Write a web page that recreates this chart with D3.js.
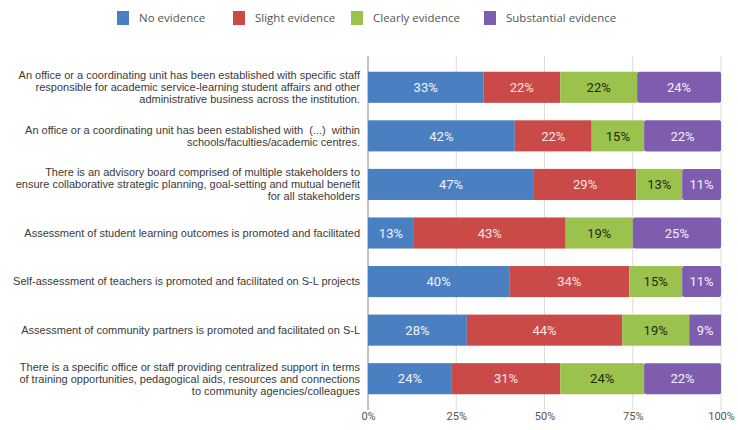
<!DOCTYPE html>
<html>
<head>
<meta charset="utf-8">
<script src="https://cdn.jsdelivr.net/npm/d3@7"></script>
<style>
  body { margin: 0; background: #fff; }
  svg { display: block; }
</style>
</head>
<body>
<div id="chart"></div>
<script>
// categories (top to bottom), one label line per array entry
const categories = [
  ["An office or a coordinating unit has been established with specific staff",
   "responsible for academic service-learning student affairs and other",
   "administrative business across the institution."],
  ["An office or a coordinating unit has been established with  (...)  within",
   "schools/faculties/academic centres."],
  ["There is an advisory board comprised of multiple stakeholders to",
   "ensure collaborative strategic planning, goal-setting and mutual benefit",
   "for all stakeholders"],
  ["Assessment of student learning outcomes is promoted and facilitated"],
  ["Self-assessment of teachers is promoted and facilitated on S-L projects"],
  ["Assessment of community partners is promoted and facilitated on S-L"],
  ["There is a specific office or staff providing centralized support in terms",
   "of training opportunities, pedagogical aids, resources and connections",
   "to community agencies/colleagues"]
];

const seriesNames = ["No evidence", "Slight evidence", "Clearly evidence", "Substantial evidence"];
const noEvidence = [33, 42, 47, 13, 40, 28, 24];
const slightEvidence = [22, 22, 29, 43, 34, 44, 31];
const clearlyEvidence = [22, 15, 13, 19, 15, 19, 24];
const substantialEvidence = [24, 22, 11, 25, 11, 9, 22];
const tickValues = [0, 0.25, 0.5, 0.75, 1];

const colors = ["#4a7fc1", "#c94a47", "#9cc24e", "#7e5cae"];
const labelColors = ["#f2f4fa", "#fbe3e3", "#1e2a10", "#f4f0fa"];

const width = 738, height = 430;
const margin = { left: 368, right: 721, top: 63, bottom: 403 };

const data = categories.map((c, i) => ({
  idx: i,
  "No evidence": noEvidence[i],
  "Slight evidence": slightEvidence[i],
  "Clearly evidence": clearlyEvidence[i],
  "Substantial evidence": substantialEvidence[i]
}));

const svg = d3.select("#chart").append("svg")
  .attr("width", width)
  .attr("height", height);

const x = d3.scaleLinear().domain([0, 1]).range([margin.left, margin.right]);
const y = d3.scaleBand().domain(d3.range(categories.length))
  .range([margin.top, margin.bottom]).paddingInner(0.36).paddingOuter(0.18);

// gridlines
svg.append("g")
  .selectAll("line")
  .data(tickValues)
  .join("line")
  .attr("x1", d => x(d)).attr("x2", d => x(d))
  .attr("y1", 56).attr("y2", 410)
  .attr("stroke", d => d === 0 ? "#888" : "#dcdcdc")
  .attr("stroke-width", 1);

// stacked bars, normalised to 100%
const stacked = d3.stack().keys(seriesNames).offset(d3.stackOffsetExpand)(data);

const groups = svg.append("g")
  .selectAll("g")
  .data(stacked)
  .join("g")
  .attr("fill", (d, i) => colors[i]);

groups.selectAll("rect")
  .data(d => d)
  .join("rect")
  .attr("x", d => x(d[0]))
  .attr("y", d => y(d.data.idx))
  .attr("width", d => x(d[1]) - x(d[0]))
  .attr("height", y.bandwidth())
  .attr("rx", (d) => d[1] === 1 ? 2 : 0);

// value labels
groups.each(function (s, si) {
  d3.select(this).selectAll("text")
    .data(s)
    .join("text")
    .attr("x", d => (x(d[0]) + x(d[1])) / 2)
    .attr("y", d => y(d.data.idx) + y.bandwidth() / 2)
    .attr("dy", "0.36em")
    .attr("text-anchor", "middle")
    .attr("font-family", "Roboto, 'Open Sans', sans-serif")
    .attr("font-size", 13)
    .attr("fill", labelColors[si])
    .text(d => d.data[s.key] + "%");
});

// category labels
const lineH = 12;
svg.append("g")
  .selectAll("text")
  .data(categories)
  .join("text")
  .attr("text-anchor", "end")
  .attr("font-family", "'Liberation Sans', Arial, sans-serif")
  .attr("font-size", 11)
  .attr("fill", "#3a3a3a")
  .style("white-space", "pre")
  .each(function (lines, i) {
    const cy = y(i) + y.bandwidth() / 2;
    const y0 = cy - (lines.length - 1) * lineH / 2;
    d3.select(this).selectAll("tspan")
      .data(lines)
      .join("tspan")
      .attr("x", 360)
      .attr("y", (l, j) => y0 + j * lineH)
      .attr("dy", "0.35em")
      .text(l => l);
  });

// x axis
const xAxis = svg.append("g")
  .attr("transform", "translate(0,409)")
  .call(d3.axisBottom(x).tickValues(tickValues).tickFormat(d3.format(".0%")).tickSize(0));
xAxis.select(".domain").remove();
xAxis.selectAll("text")
  .attr("font-family", "Roboto, 'Open Sans', sans-serif")
  .attr("font-size", 11)
  .attr("fill", "#555");

// legend
const legendX = [117, 233, 351, 484];
const legend = svg.append("g")
  .selectAll("g")
  .data(seriesNames)
  .join("g")
  .attr("transform", (d, i) => `translate(${legendX[i]},11)`);
legend.append("rect")
  .attr("width", 12).attr("height", 14)
  .attr("fill", (d, i) => colors[i]);
legend.append("text")
  .attr("x", 22).attr("y", 7).attr("dy", "0.35em")
  .attr("font-family", "'Open Sans', sans-serif")
  .attr("font-size", 11.5)
  .attr("fill", "#555")
  .text(d => d);
</script>
</body>
</html>
